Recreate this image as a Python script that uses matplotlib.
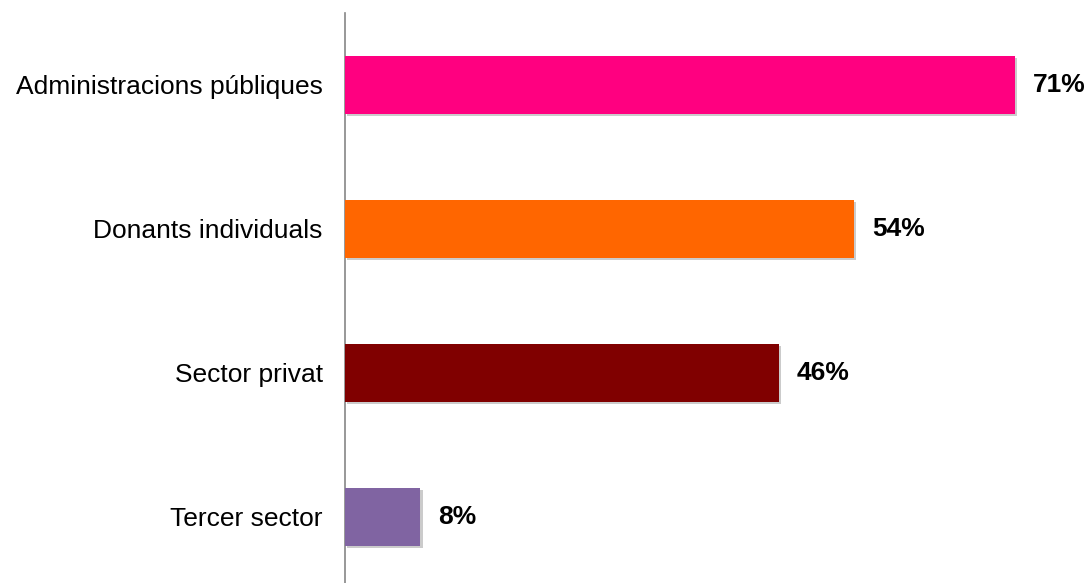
import matplotlib.pyplot as plt
import matplotlib.patheffects as pe

categories = ['Administracions públiques', 'Donants individuals', 'Sector privat', 'Tercer sector']
values = [71, 54, 46, 8]
colors = ['#FF0080', '#FF6600', '#800000', '#8064A2']

plt.rcParams['font.family'] = ['Liberation Sans', 'DejaVu Sans']

fig = plt.figure(figsize=(10.88, 5.83), dpi=100)
ax = fig.add_axes([345 / 1088, 0, 1 - 345 / 1088, (583 - 13) / 583])

pos = list(range(len(categories)))[::-1]
bars = ax.barh(pos, values, height=0.4, color=colors, zorder=3)
for b in bars:
    b.set_path_effects([pe.SimplePatchShadow(offset=(1.5, -1.5), alpha=0.3, shadow_rgbFace='#555555'), pe.Normal()])

for p, v in zip(pos, values):
    ax.annotate(f'{v}%', xy=(v, p), xytext=(13, 0), textcoords='offset points',
                va='center', ha='left', fontsize=19, fontweight='bold', color='black')

ax.set_xlim(0, (1088 - 345) / 9.43)
ax.set_ylim(-0.46, 3.5)
ax.set_yticks(pos)
ax.set_yticklabels(categories, fontsize=19)
ax.tick_params(axis='y', length=0, pad=16)
ax.set_xticks([])
for s in ['top', 'right', 'bottom']:
    ax.spines[s].set_visible(False)
ax.spines['left'].set_color('#868686')
ax.spines['left'].set_linewidth(1.2)

fig.savefig('out.png', dpi=100)
